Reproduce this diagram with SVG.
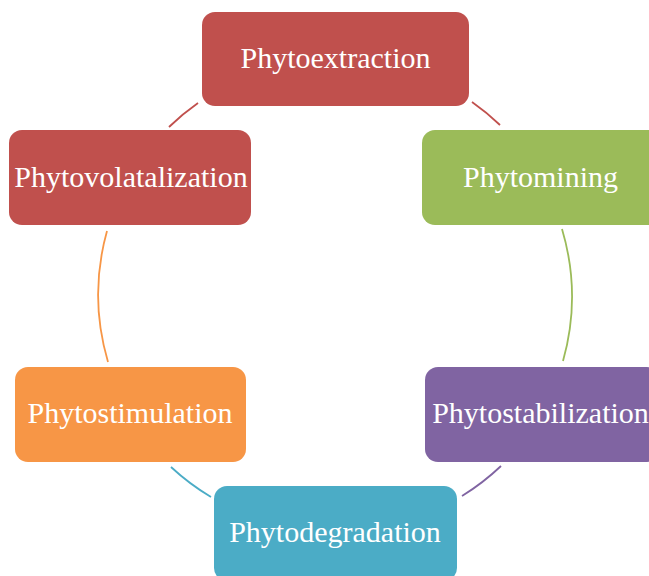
<svg xmlns="http://www.w3.org/2000/svg" width="649" height="576" viewBox="0 0 649 576">
<style>
.lbl{font-family:"Liberation Serif","Times New Roman",serif;font-size:30px;fill:#ffffff;text-anchor:middle}
.con{fill:none;stroke-width:1.8}
</style>
<rect width="649" height="576" fill="#ffffff"/>
<g id="connectors">
<path class="con" stroke="#c0504d" d="M472,102 A237,237 0 0 1 500,125"/>
<path class="con" stroke="#9bbb59" d="M562,229 A237,237 0 0 1 563,361"/>
<path class="con" stroke="#8064a2" d="M501,466 A237,237 0 0 1 462,496"/>
<path class="con" stroke="#4bacc6" d="M211,497 A237,237 0 0 1 171,467"/>
<path class="con" stroke="#f79646" d="M108,362 A237,237 0 0 1 107,231"/>
<path class="con" stroke="#c0504d" d="M169,127 A237,237 0 0 1 198,103"/>
</g>
<g id="phytoextraction">
<rect x="202" y="12" width="267" height="94" rx="13" fill="#c0504d"/>
<text class="lbl" x="335.5" y="68">Phytoextraction</text>
</g>
<g id="phytomining">
<rect x="422" y="130" width="240" height="95" rx="13" fill="#9bbb59"/>
<text class="lbl" x="540.5" y="187">Phytomining</text>
</g>
<g id="phytostabilization">
<rect x="425" y="367" width="235" height="95" rx="13" fill="#8064a2"/>
<text class="lbl" x="540.5" y="423">Phytostabilization</text>
</g>
<g id="phytodegradation">
<rect x="214" y="486" width="243" height="95" rx="13" fill="#4bacc6"/>
<text class="lbl" x="335" y="542">Phytodegradation</text>
</g>
<g id="phytostimulation">
<rect x="15" y="367" width="231" height="95" rx="13" fill="#f79646"/>
<text class="lbl" x="130" y="423">Phytostimulation</text>
</g>
<g id="phytovolatalization">
<rect x="9" y="130" width="242" height="95" rx="13" fill="#c0504d"/>
<text class="lbl" x="131" y="187">Phytovolatalization</text>
</g>
</svg>
